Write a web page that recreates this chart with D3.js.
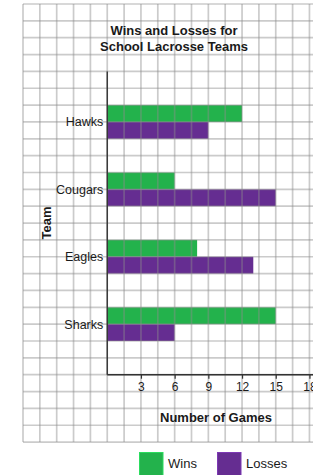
<!DOCTYPE html>
<html>
<head>
<meta charset="utf-8">
<script src="https://cdn.jsdelivr.net/npm/d3@7"></script>
<style>
  html, body { margin: 0; padding: 0; background: #fff; }
  svg { display: block; font-family: "Liberation Sans", Arial, sans-serif; }
</style>
</head>
<body>
<svg id="chart" width="313" height="475"></svg>
<script>
const teams = ["Hawks", "Cougars", "Eagles", "Sharks"];
const wins = [12, 6, 8, 15];
const losses = [9, 15, 13, 6];
const seriesNames = ["Wins", "Losses"];
const seriesColors = ["#23b24c", "#652d91"];
const xTicks = [3, 6, 9, 12, 15, 18];
const titleLines = ["Wins and Losses for", "School Lacrosse Teams"];
const xTitle = "Number of Games";
const yTitle = "Team";

const W = 313, H = 475;
const c = 16.85;         // grid cell size
const gx0 = 23, gy0 = 4; // grid origin
const gridCols = 18, gridRows = 26;

const svg = d3.select("#chart");

const x = d3.scaleLinear().domain([0, 18]).range([gx0 + 5 * c, gx0 + 17 * c]);
const y = d3.scaleBand().domain(teams).range([gy0 + 5 * c, gy0 + 21 * c])
  .paddingInner(0.5).paddingOuter(0.25);
const ySub = d3.scaleBand().domain(seriesNames).range([0, y.bandwidth()]);
const color = d3.scaleOrdinal().domain(seriesNames).range(seriesColors);

const data = teams.map((t, i) => ({ team: t, values: [
  { key: "Wins", value: wins[i] },
  { key: "Losses", value: losses[i] }
]}));

// bars
const groups = svg.append("g").selectAll("g").data(data).join("g")
  .attr("transform", d => `translate(0,${y(d.team)})`);
groups.selectAll("rect").data(d => d.values).join("rect")
  .attr("x", x(0))
  .attr("y", d => ySub(d.key))
  .attr("width", d => x(d.value) - x(0))
  .attr("height", ySub.bandwidth())
  .attr("fill", d => color(d.key));

// grid on top
const grid = svg.append("g").attr("stroke", "rgb(140,140,140)").attr("stroke-opacity", 0.45).attr("stroke-width", 1.7);
grid.selectAll("line.v").data(d3.range(gridCols + 1)).join("line")
  .attr("x1", i => gx0 + i * c).attr("x2", i => gx0 + i * c)
  .attr("y1", gy0).attr("y2", gy0 + gridRows * c);
grid.selectAll("line.h").data(d3.range(gridRows + 1)).join("line")
  .attr("x1", gx0).attr("x2", W)
  .attr("y1", i => gy0 + i * c).attr("y2", i => gy0 + i * c);

// axes
const axisY = gy0 + 22 * c;
const xAxis = d3.axisBottom(x).tickValues(xTicks).tickSize(4).tickPadding(4);
const gx = svg.append("g").attr("transform", `translate(0,${axisY})`).call(xAxis);
gx.select(".domain").remove();
gx.selectAll(".tick line").attr("stroke", "#333").attr("stroke-width", 1.2);
gx.selectAll(".tick text").attr("font-size", 12).attr("fill", "#1a1a1a")
  .attr("font-family", "'Liberation Sans', Arial, sans-serif");
svg.append("line").attr("x1", x(0)).attr("x2", W).attr("y1", axisY).attr("y2", axisY)
  .attr("stroke", "#333").attr("stroke-width", 1.4);
svg.append("line").attr("x1", x(0)).attr("x2", x(0)).attr("y1", gy0 + 4 * c).attr("y2", axisY)
  .attr("stroke", "#333").attr("stroke-width", 1.4);

// team labels
svg.append("g").selectAll("text").data(teams).join("text")
  .attr("x", x(0) - 4)
  .attr("y", d => y(d) + y.bandwidth() / 2)
  .attr("dy", "0.35em")
  .attr("text-anchor", "end")
  .attr("font-size", 12.5)
  .attr("fill", "#1a1a1a")
  .text(d => d);

// title
svg.append("g").selectAll("text").data(titleLines).join("text")
  .attr("x", 174)
  .attr("y", (d, i) => 34.5 + i * 16)
  .attr("text-anchor", "middle")
  .attr("font-size", 13)
  .attr("font-weight", "bold")
  .attr("fill", "#1a1a1a")
  .text(d => d);

// axis titles
svg.append("text").attr("x", 216).attr("y", 421.5)
  .attr("text-anchor", "middle").attr("font-size", 13).attr("font-weight", "bold")
  .attr("fill", "#1a1a1a").text(xTitle);
svg.append("text").attr("transform", "translate(50.5,223) rotate(-90)")
  .attr("text-anchor", "middle").attr("font-size", 13).attr("font-weight", "bold")
  .attr("fill", "#1a1a1a").text(yTitle);

// legend
const legendX = [139.5, 217.5];
const lg = svg.append("g").selectAll("g").data(seriesNames).join("g")
  .attr("transform", (d, i) => `translate(${legendX[i]},452.5)`);
lg.append("rect").attr("width", 23.5).attr("height", 23.5)
  .attr("fill", d => color(d))
  .attr("stroke", d => d3.color(color(d)).brighter(0.6))
  .attr("stroke-width", 1);
lg.append("text").attr("x", 28.5).attr("y", 11).attr("dy", "0.35em")
  .attr("font-size", 13).attr("fill", "#1a1a1a").text(d => d);
</script>
</body>
</html>
